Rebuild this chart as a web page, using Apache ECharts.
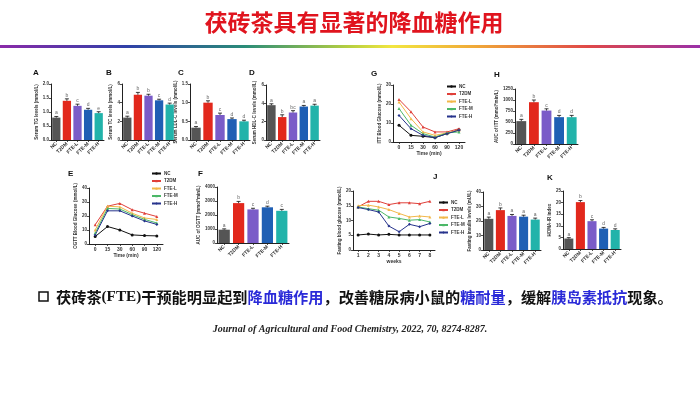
<!DOCTYPE html>
<html><head><meta charset="utf-8">
<script src="https://cdn.jsdelivr.net/npm/echarts@6/dist/echarts.min.js"></script>
<style>html,body{margin:0;padding:0;background:#fff}#c{width:700px;height:394px}</style>
</head><body><div id="c"></div>
<script>
// ---------- data ----------
const groups = ['NC', 'T2DM', 'FTE-L', 'FTE-M', 'FTE-H'];
const barColors = ['#555555', '#e2281c', '#7a5cc8', '#1f5fb4', '#22b3aa'];
const lineColors = ['#111111', '#e0403a', '#f2b84a', '#4cb868', '#26338c'];

const tgValues = [0.80, 1.40, 1.22, 1.08, 0.96];
const tgErrors = [0.04, 0.07, 0.06, 0.05, 0.05];
const tgLetters = ['a', 'b', 'c', 'd', 'e'];

const tcValues = [2.40, 4.85, 4.75, 4.25, 3.80];
const tcErrors = [0.15, 0.25, 0.15, 0.12, 0.15];
const tcLetters = ['a', 'b', 'b', 'c', 'd'];

const ldlValues = [0.33, 1.00, 0.67, 0.56, 0.50];
const ldlErrors = [0.03, 0.05, 0.05, 0.03, 0.03];
const ldlLetters = ['a', 'b', 'c', 'd', 'd'];

const hdlValues = [3.80, 2.50, 3.00, 3.65, 3.75];
const hdlErrors = [0.15, 0.25, 0.20, 0.12, 0.15];
const hdlLetters = ['a', 'b', 'bc', 'a', 'a'];

const ittAucValues = [520, 950, 760, 610, 610];
const ittAucErrors = [40, 50, 40, 40, 40];
const ittAucLetters = ['a', 'b', 'c', 'd', 'd'];

const ogttAucValues = [950, 2850, 2400, 2550, 2300];
const ogttAucErrors = [60, 120, 80, 80, 100];
const ogttAucLetters = ['a', 'b', 'c', 'd', 'c'];

const insulinValues = [21.5, 27.5, 23.5, 23.0, 21.0];
const insulinErrors = [1.2, 1.5, 1.0, 1.0, 1.0];
const insulinLetters = ['a', 'b', 'a', 'a', 'a'];

const homaValues = [4.5, 20.2, 12.0, 8.8, 8.2];
const homaErrors = [0.4, 0.7, 0.6, 0.5, 0.5];
const homaLetters = ['a', 'b', 'c', 'd', 'd'];

const timePoints = ['0', '15', '30', '60', '90', '120'];
const ittNC = [8.8, 3.5, 3.0, 2.3, 4.4, 6.5];
const ittT2DM = [22.4, 15.9, 7.9, 5.3, 5.3, 7.0];
const ittL = [21.0, 12.3, 5.3, 3.5, 4.8, 6.2];
const ittM = [17.6, 8.8, 4.4, 2.6, 4.8, 5.3];
const ittH = [14.0, 7.0, 3.5, 2.3, 4.4, 6.2];

const ogttNC = [5.3, 12.5, 10.0, 6.5, 6.0, 5.8];
const ogttT2DM = [13.7, 27.0, 29.0, 24.5, 22.0, 19.6];
const ogttL = [10.0, 27.0, 26.5, 22.0, 18.6, 17.5];
const ogttM = [7.8, 25.4, 25.0, 21.0, 17.6, 15.0];
const ogttH = [6.5, 23.7, 23.7, 20.0, 16.5, 14.0];

const weeks = ['1', '2', '3', '4', '5', '6', '7', '8'];
const fbgNC = [5.1, 5.4, 5.1, 5.3, 5.1, 5.1, 5.1, 5.1];
const fbgT2DM = [14.6, 16.5, 16.5, 15.4, 16.0, 16.0, 15.7, 16.5];
const fbgL = [15.0, 15.2, 14.6, 13.7, 12.4, 11.2, 11.5, 11.2];
const fbgM = [14.6, 14.0, 13.5, 11.2, 10.7, 10.1, 10.3, 9.5];
const fbgH = [14.4, 13.7, 12.9, 8.1, 6.2, 8.7, 7.9, 9.0];

// ---------- build ----------
const FONT = 'Liberation Sans';
const grids = [], xAxes = [], yAxes = [], series = [], legends = [];

function axisY(max, interval, name, decimals, gap) {
  return {
    type: 'value', min: 0, max: max, interval: interval,
    name: name, nameLocation: 'middle', nameGap: gap,
    nameTextStyle: {fontSize: 4.5, fontWeight: 'bold', fontFamily: FONT, color: '#333'},
    axisLine: {show: true, lineStyle: {color: '#222', width: 1}},
    axisTick: {show: true, length: 2, lineStyle: {color: '#222', width: 0.8}},
    axisLabel: {fontSize: 4.5, fontWeight: 'bold', fontFamily: FONT, color: '#333', margin: 2,
      formatter: v => decimals ? v.toFixed(decimals) : String(v)},
    splitLine: {show: false}
  };
}

function barPanel(box, values, errors, letters, max, interval, name, decimals, gap) {
  const gi = grids.length;
  grids.push({left: box[0], top: box[1], width: box[2], height: box[3]});
  xAxes.push({
    type: 'category', gridIndex: gi, data: groups,
    axisLine: {lineStyle: {color: '#222', width: 1}},
    axisTick: {show: true, alignWithLabel: true, length: 2, lineStyle: {color: '#222', width: 0.8}},
    axisLabel: {rotate: 45, fontSize: 5, fontWeight: 'bold', fontFamily: FONT, color: '#333', margin: 3, interval: 0}
  });
  const y = axisY(max, interval, name, decimals, gap);
  y.gridIndex = gi;
  yAxes.push(y);
  series.push({
    type: 'bar', xAxisIndex: gi, yAxisIndex: gi, barCategoryGap: '22%',
    data: values.map((v, i) => ({value: v, itemStyle: {color: barColors[i]}})),
    silent: true
  });
  series.push({
    type: 'custom', xAxisIndex: gi, yAxisIndex: gi, silent: true, z: 5,
    data: values.map((v, i) => [i, v, errors[i], letters[i]]),
    renderItem: (params, api) => {
      const i = api.value(0), v = api.value(1), e = api.value(2);
      const b = api.coord([i, v]), t = api.coord([i, v + e]);
      return {type: 'group', children: [
        {type: 'line', shape: {x1: b[0], y1: b[1], x2: t[0], y2: t[1]}, style: {stroke: '#111', lineWidth: 0.8}},
        {type: 'line', shape: {x1: t[0] - 2, y1: t[1], x2: t[0] + 2, y2: t[1]}, style: {stroke: '#111', lineWidth: 0.8}},
        {type: 'text', x: t[0], y: t[1] - 1, style: {text: letters[i], fontSize: 5, fill: '#666', fontFamily: FONT, align: 'center', verticalAlign: 'bottom'}}
      ]};
    }
  });
}

function linePanel(box, cats, dataSets, max, interval, name, xName, legendPos, gap) {
  const gi = grids.length;
  grids.push({left: box[0], top: box[1], width: box[2], height: box[3]});
  xAxes.push({
    type: 'category', gridIndex: gi, data: cats, boundaryGap: true,
    name: xName, nameLocation: 'middle', nameGap: 9,
    nameTextStyle: {fontSize: 5, fontWeight: 'bold', fontFamily: FONT, color: '#333'},
    axisLine: {lineStyle: {color: '#222', width: 1}},
    axisTick: {show: true, alignWithLabel: true, length: 2, lineStyle: {color: '#222', width: 0.8}},
    axisLabel: {fontSize: 5, fontWeight: 'bold', fontFamily: FONT, color: '#333', margin: 3, interval: 0}
  });
  const y = axisY(max, interval, name, 0, gap);
  y.gridIndex = gi;
  yAxes.push(y);
  const symbols = ['circle', 'triangle', 'triangle', 'triangle', 'diamond'];
  dataSets.forEach((d, k) => {
    series.push({
      name: groups[k], type: 'line', xAxisIndex: gi, yAxisIndex: gi, data: d,
      symbol: symbols[k], symbolSize: 3, silent: true,
      lineStyle: {width: 1, color: lineColors[k]}, itemStyle: {color: lineColors[k]}
    });
  });
  legends.push({
    left: legendPos[0], top: legendPos[1], orient: 'vertical', itemGap: 2.5, padding: 0,
    itemWidth: 9, itemHeight: 3, selectedMode: false, data: groups,
    textStyle: {fontSize: 4.5, fontFamily: FONT, fontWeight: 'bold', color: '#333', padding: [0, 0, 0, -2]}
  });
}

barPanel([51, 84, 53, 56], tgValues, tgErrors, tgLetters, 2.0, 0.5, 'Serum TG levels (mmol/L)', 1, 11);
barPanel([122, 84, 53, 56], tcValues, tcErrors, tcLetters, 6, 2, 'Serum TC levels (mmol/L)', 0, 7);
barPanel([190, 84, 60, 56], ldlValues, ldlErrors, ldlLetters, 1.5, 0.5, 'Serum LDL-C levels (mmol/L)', 1, 11);
barPanel([266, 85, 54, 55], hdlValues, hdlErrors, hdlLetters, 6, 2, 'Serum HDL-C levels (mmol/L)', 0, 7);
linePanel([393, 85, 72, 57], timePoints, [ittNC, ittT2DM, ittL, ittM, ittH], 30, 10,
  'ITT Blood Glucose (mmol/L)', 'Time (min)', [446, 84], 8);
barPanel([515, 89, 63, 55], ittAucValues, ittAucErrors, ittAucLetters, 1250, 250, 'AUC of ITT (mmol*min/L)', 0, 14);
linePanel([89, 188, 74, 56], timePoints, [ogttNC, ogttT2DM, ogttL, ogttM, ogttH], 40, 10,
  'OGTT Blood Glucose (mmol/L)', 'Time (min)', [151, 171], 8);
barPanel([217, 187, 72, 56], ogttAucValues, ogttAucErrors, ogttAucLetters, 4000, 1000, 'AUC of OGTT (mmol*min/L)', 0, 14);
linePanel([353, 191, 82, 59], weeks, [fbgNC, fbgT2DM, fbgL, fbgM, fbgH], 20, 5,
  'Fasting blood glucose (mmol/L)', 'weeks', [438, 200], 8);
barPanel([483, 192, 58, 58], insulinValues, insulinErrors, insulinLetters, 40, 10, 'Fasting insulin levels (mU/L)', 0, 8);
barPanel([563, 191, 58, 58], homaValues, homaErrors, homaLetters, 25, 5, 'HOMA-IR index', 0, 8);

const panelLetters = [['A', 33, 73], ['B', 106, 73], ['C', 178, 73], ['D', 249, 73], ['G', 371, 74],
  ['H', 494, 75], ['E', 68, 174], ['F', 198, 174], ['J', 433, 177], ['K', 547, 178]];

const graphics = [
  {type: 'text', x: 354, y: 22, style: {text: '茯砖茶具有显著的降血糖作用', fill: '#e0141e',
    align: 'center', verticalAlign: 'middle', font: 'bold 23px "Noto Sans CJK SC"'}},
  {type: 'rect', shape: {x: 0, y: 45, width: 700, height: 3}, style: {fill: new echarts.graphic.LinearGradient(0, 0, 1, 0, [
    {offset: 0, color: '#8a2aa8'}, {offset: 0.18, color: '#3040a8'}, {offset: 0.35, color: '#2a8c78'},
    {offset: 0.5, color: '#b8d040'}, {offset: 0.56, color: '#f2e640'}, {offset: 0.68, color: '#f0a838'},
    {offset: 0.84, color: '#e04848'}, {offset: 1, color: '#9a30a8'}])}},
  {type: 'rect', shape: {x: 39, y: 292, width: 9, height: 9}, style: {fill: 'none', stroke: '#111', lineWidth: 1.5}},
  {type: 'text', x: 56, y: 297, style: {
    text: '{k|茯砖茶}{s|(FTE)}{k|干预能明显起到}{b|降血糖作用}{k|，改善糖尿病小鼠的}{b|糖耐量}{k|，缓解}{b|胰岛素抵抗}{k|现象。}',
    verticalAlign: 'middle',
    rich: {
      k: {fontSize: 15.2, fontWeight: 'bold', fontFamily: 'Noto Sans CJK SC', fill: '#111'},
      s: {fontSize: 15.2, fontWeight: 'bold', fontFamily: 'Liberation Serif', fill: '#111'},
      b: {fontSize: 15.2, fontWeight: 'bold', fontFamily: 'Noto Sans CJK SC', fill: '#2a2ad8'}
    }}},
  {type: 'text', left: 'center', top: 324, style: {text: 'Journal of Agricultural and Food Chemistry, 2022, 70, 8274-8287.',
    font: 'italic bold 10px "Liberation Serif"', fill: '#222'}}
];
panelLetters.forEach(p => graphics.push({type: 'text', x: p[1], y: p[2],
  style: {text: p[0], font: 'bold 8px "Liberation Sans"', fill: '#111', verticalAlign: 'middle'}}));

const chart = echarts.init(document.getElementById('c'), null, {renderer: 'canvas'});
chart.setOption({
  backgroundColor: '#ffffff', animation: false,
  grid: grids, xAxis: xAxes, yAxis: yAxes, series: series, legend: legends, graphic: graphics
});
</script></body></html>
